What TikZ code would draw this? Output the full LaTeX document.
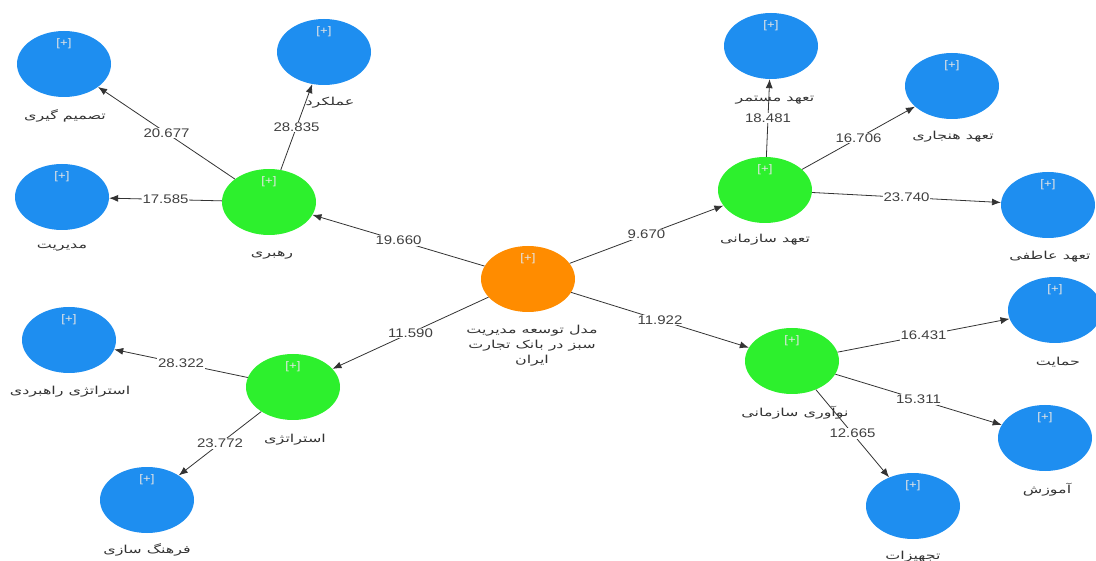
\documentclass[tikz,border=0pt]{standalone}
\usepackage{fontspec}
\setmainfont{Liberation Sans}
\newfontfamily\farsifont[Script=Arabic,FakeStretch=1.45]{DejaVu Sans}
\newfontfamily\numfont[FakeStretch=1.2]{Liberation Sans}
\usetikzlibrary{arrows.meta,shapes.geometric}
\TeXXeTstate=1
\definecolor{indblue}{RGB}{30,142,240}
\definecolor{dimgreen}{RGB}{45,240,45}
\definecolor{rootorange}{RGB}{255,140,0}
\newcommand{\fa}[1]{{\farsifont\beginR #1\endR}}

\begin{document}
\begin{tikzpicture}[x=1pt,y=-1pt,
    var/.style={ellipse,minimum width=94pt,minimum height=66pt,inner sep=0pt,
      label={[plusmark]north:{[+]}}},
    plusmark/.style={anchor=north,yshift=-4pt,text=white!80!gray,font=\numfont\fontsize{11}{12}\selectfont},
    ind/.style={var,fill=indblue},
    dim/.style={var,fill=dimgreen},
    root/.style={var,fill=rootorange},
    caption/.style={text=black!80,font=\fontsize{11}{15}\selectfont,align=center},
    link/.style={-{Latex[length=9pt,width=7pt]},draw=black!80,line width=0.8pt},
    val/.style={fill=white,inner sep=1pt,text=black!75,font=\numfont\fontsize{12.5}{13}\selectfont}]
    \useasboundingbox(0,0)rectangle(1096,561);
    % constructs
    \node[root](model)at(528,279){};
    \node[dim](rahbari)at(269,202){};
    \node[dim](taahod)at(765,190){};
    \node[dim](noavari)at(792,361){};
    \node[dim](strat)at(293,387){};
    \node[ind](tasmim)at(64,64){};
    \node[ind](amalkard)at(324,52){};
    \node[ind](modiriat)at(62,197){};
    \node[ind](mostamar)at(771,46){};
    \node[ind](hanjari)at(952,86){};
    \node[ind](atefi)at(1048,205){};
    \node[ind](hemayat)at(1055,310){};
    \node[ind](amoozesh)at(1045,438){};
    \node[ind](tajhizat)at(913,506){};
    \node[ind](rahbordi)at(69,340){};
    \node[ind](farhang)at(147,500){};
    % names
    \node[caption](model-t)at(532,346){\fa{مدل توسعه مدیریت}\\\fa{سبز در بانک تجارت}\\\fa{ایران}};
    \node[caption](rahbari-t)at(272,255){\fa{رهبری}};
    \node[caption](taahod-t)at(765,240){\fa{تعهد سازمانی}};
    \node[caption](noavari-t)at(795,413){\fa{نوآوری سازمانی}};
    \node[caption](strat-t)at(295,440){\fa{استراتژی}};
    \node[caption](tasmim-t)at(65,116){\fa{تصمیم گیری}};
    \node[caption](amalkard-t)at(330,103){\fa{عملکرد}};
    \node[caption](modiriat-t)at(62,248){\fa{مدیریت}};
    \node[caption](mostamar-t)at(775,100){\fa{تعهد مستمر}};
    \node[caption](hanjari-t)at(953,137){\fa{تعهد هنجاری}};
    \node[caption](atefi-t)at(1050,257){\fa{تعهد عاطفی}};
    \node[caption](hemayat-t)at(1058,362){\fa{حمایت}};
    \node[caption](amoozesh-t)at(1047,490){\fa{آموزش}};
    \node[caption](tajhizat-t)at(913,557){\fa{تجهیزات}};
    \node[caption](rahbordi-t)at(70,392){\fa{استراتژی راهبردی}};
    \node[caption](farhang-t)at(147,550){\fa{فرهنگ سازی}};
    % paths
    \draw[link](model)--node[val]{19.660}(rahbari);
    \draw[link](model)--node[val]{9.670}(taahod);
    \draw[link](model)--node[val]{11.922}(noavari);
    \draw[link](model)--node[val]{11.590}(strat);
    \draw[link](rahbari)--node[val]{20.677}(tasmim);
    \draw[link](rahbari)--node[val]{28.835}(amalkard);
    \draw[link](rahbari)--node[val]{17.585}(modiriat);
    \draw[link](taahod)--node[val]{18.481}(mostamar);
    \draw[link](taahod)--node[val]{16.706}(hanjari);
    \draw[link](taahod)--node[val]{23.740}(atefi);
    \draw[link](noavari)--node[val]{16.431}(hemayat);
    \draw[link](noavari)--node[val]{15.311}(amoozesh);
    \draw[link](noavari)--node[val]{12.665}(tajhizat);
    \draw[link](strat)--node[val]{28.322}(rahbordi);
    \draw[link](strat)--node[val]{23.772}(farhang);
\end{tikzpicture}
\end{document}
